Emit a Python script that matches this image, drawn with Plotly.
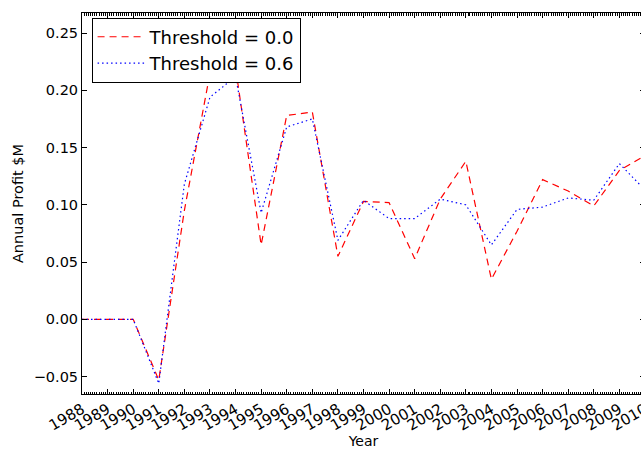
import plotly.graph_objects as go

years = [str(y) + "-01-01" for y in range(1988, 2011)]
thr_00 = [0.0, 0.0, 0.0, -0.053, 0.095, 0.215, 0.220, 0.065, 0.178, 0.181, 0.055,
          0.103, 0.102, 0.053, 0.105, 0.138, 0.035, 0.077, 0.122, 0.112, 0.099,
          0.130, 0.143]
thr_06 = [0.0, 0.0, 0.0, -0.056, 0.118, 0.194, 0.212, 0.093, 0.168, 0.175, 0.069,
          0.104, 0.088, 0.088, 0.105, 0.100, 0.065, 0.096, 0.098, 0.106, 0.104,
          0.136, 0.113]
names = ["Threshold = 0.0", "Threshold = 0.6"]
ytick_vals = [-0.05, 0.0, 0.05, 0.10, 0.15, 0.20, 0.25]

FONT = "DejaVu Sans"

fig = go.Figure()
fig.add_trace(go.Scatter(x=years, y=thr_00, mode="lines", name=names[0],
                         line=dict(color="#ff0000", width=1.2, dash="7px,5px")))
fig.add_trace(go.Scatter(x=years, y=thr_06, mode="lines", name=names[1],
                         line=dict(color="#0000ff", width=1.2, dash="1.5px,3px")))

W, H = 648, 449
fig.update_layout(
    width=W, height=H,
    margin=dict(l=82, r=3, t=13, b=55, autoexpand=False),
    paper_bgcolor="white", plot_bgcolor="white",
    font=dict(family=FONT, color="black", size=14),
    showlegend=True,
    legend=dict(x=0.017, y=0.988, xanchor="left", yanchor="top",
                bordercolor="black", borderwidth=1, bgcolor="white",
                font=dict(size=18, family=FONT), tracegroupgap=0,
                itemwidth=47),
    xaxis=dict(
        type="date", range=["1988-01-01", "2010-01-01 12:00"],
        tickmode="linear", tick0="1988-01-01", dtick="M12", tickformat="%Y",
        tickangle=-30, ticks="inside", ticklen=5, tickcolor="black",
        ticklabeloverflow="allow",
        showline=True, linecolor="black", linewidth=1, mirror="ticks",
        showgrid=False, zeroline=False,
        tickfont=dict(size=15, family=FONT),
        minor=dict(ticks="inside", ticklen=2.5, dtick="M1", tickcolor="black",
                   showgrid=False),
        title=dict(text="Year", font=dict(size=14, family=FONT), standoff=4),
        automargin=False,
    ),
    yaxis=dict(
        range=[-0.0652, 0.2675], tickmode="array", tickvals=ytick_vals,
        tickformat=".2f", ticks="inside", ticklen=5, tickcolor="black",
        showline=True, linecolor="black", linewidth=1, mirror="ticks",
        showgrid=False, zeroline=False,
        tickfont=dict(size=14.5, family=FONT),
        title=dict(text="Annual Profit $M", font=dict(size=14.5, family=FONT), standoff=6),
        automargin=False,
    ),
)

fig.write_html("out.html",
               post_script="document.body.style.overflow='hidden';"
                           "document.documentElement.style.overflow='hidden';")
